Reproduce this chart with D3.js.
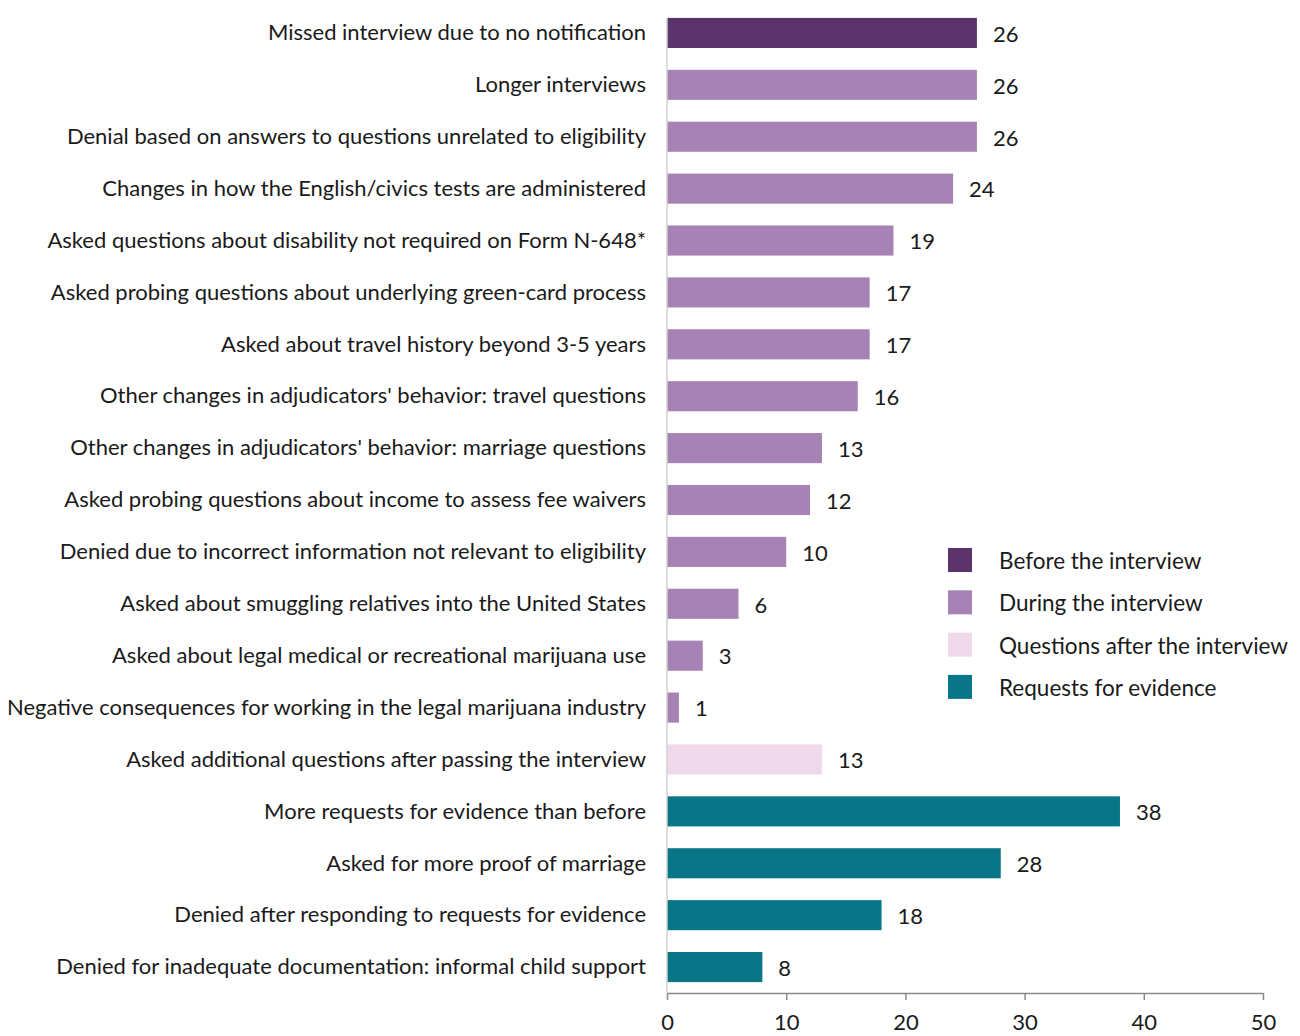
<!DOCTYPE html>
<html>
<head>
<meta charset="utf-8">
<script src="https://cdn.jsdelivr.net/npm/d3@7"></script>
<style>
  body { margin: 0; background: #fff; }
  text { font-family: Lato, "Open Sans", sans-serif; fill: #1a1a1a; }
</style>
</head>
<body>
<div id="chart"></div>
<script>
// categories, top to bottom
const labels = [
  "Missed interview due to no notification",
  "Longer interviews",
  "Denial based on answers to questions unrelated to eligibility",
  "Changes in how the English/civics tests are administered",
  "Asked questions about disability not required on Form N-648*",
  "Asked probing questions about underlying green-card process",
  "Asked about travel history beyond 3-5 years",
  "Other changes in adjudicators' behavior: travel questions",
  "Other changes in adjudicators' behavior: marriage questions",
  "Asked probing questions about income to assess fee waivers",
  "Denied due to incorrect information not relevant to eligibility",
  "Asked about smuggling relatives into the United States",
  "Asked about legal medical or recreational marijuana use",
  "Negative consequences for working in the legal marijuana industry",
  "Asked additional questions after passing the interview",
  "More requests for evidence than before",
  "Asked for more proof of marriage",
  "Denied after responding to requests for evidence",
  "Denied for inadequate documentation: informal child support"
];
const values = [26, 26, 26, 24, 19, 17, 17, 16, 13, 12, 10, 6, 3, 1, 13, 38, 28, 18, 8];
const groups = [0, 1, 1, 1, 1, 1, 1, 1, 1, 1, 1, 1, 1, 1, 2, 3, 3, 3, 3];
const groupNames = ["Before the interview", "During the interview", "Questions after the interview", "Requests for evidence"];
const groupColors = ["#5c346c", "#a683b4", "#efd9ea", "#087686"];
const xTicks = [0, 10, 20, 30, 40, 50];

const W = 1300, H = 1036;
const plotLeft = 667, plotRight = 1263, plotTop = 7, plotBottom = 993;

const data = labels.map((l, i) => ({label: l, value: values[i], group: groups[i]}));

const svg = d3.select("#chart").append("svg")
    .attr("width", W)
    .attr("height", H);

const x = d3.scaleLinear().domain([0, 50]).range([plotLeft, plotRight]);
const y = d3.scaleBand().domain(labels).range([plotTop, plotBottom]).paddingInner(0.42).paddingOuter(0.21);

// bars
svg.selectAll(".bar")
    .data(data)
    .enter().append("rect")
    .attr("class", "bar")
    .attr("x", x(0))
    .attr("y", d => y(d.label))
    .attr("width", d => x(d.value) - x(0))
    .attr("height", y.bandwidth())
    .style("fill", d => groupColors[d.group]);

// value labels
svg.selectAll(".val")
    .data(data)
    .enter().append("text")
    .attr("class", "val")
    .attr("x", d => x(d.value) + 16)
    .attr("y", d => y(d.label) + y.bandwidth() / 2)
    .attr("dy", "0.4em")
    .style("font-size", "22px")
    .text(d => d.value);

// category labels
svg.selectAll(".cat")
    .data(data)
    .enter().append("text")
    .attr("class", "cat")
    .attr("x", plotLeft - 21)
    .attr("y", d => y(d.label) + y.bandwidth() / 2)
    .attr("dy", "0.33em")
    .style("text-anchor", "end")
    .style("font-size", "22px")
    .text(d => d.label);

// vertical baseline
svg.append("line")
    .attr("x1", x(0)).attr("x2", x(0))
    .attr("y1", 18).attr("y2", plotBottom)
    .style("stroke", "#d0d0d0")
    .style("stroke-width", 1.5);

// x axis
const xAxis = svg.append("g")
    .attr("transform", "translate(0," + plotBottom + ")")
    .call(d3.axisBottom(x).tickValues(xTicks).tickSize(7).tickSizeOuter(0).tickPadding(14));
xAxis.select(".domain").style("stroke", "#8a8a8a").style("stroke-width", 1.5);
xAxis.selectAll(".tick line").style("stroke", "#8a8a8a").style("stroke-width", 1.5);
xAxis.selectAll(".tick text")
    .style("font-family", "Lato, sans-serif")
    .style("font-size", "22px")
    .style("fill", "#1a1a1a");

// legend
const legend = svg.selectAll(".legend")
    .data(groupNames)
    .enter().append("g")
    .attr("class", "legend")
    .attr("transform", (d, i) => "translate(948," + (548 + i * 42.3) + ")");

legend.append("rect")
    .attr("width", 24)
    .attr("height", 24)
    .style("fill", (d, i) => groupColors[i]);

legend.append("text")
    .attr("x", 51)
    .attr("y", 12)
    .attr("dy", "0.4em")
    .style("font-size", "22.5px")
    .text(d => d);
</script>
</body>
</html>
